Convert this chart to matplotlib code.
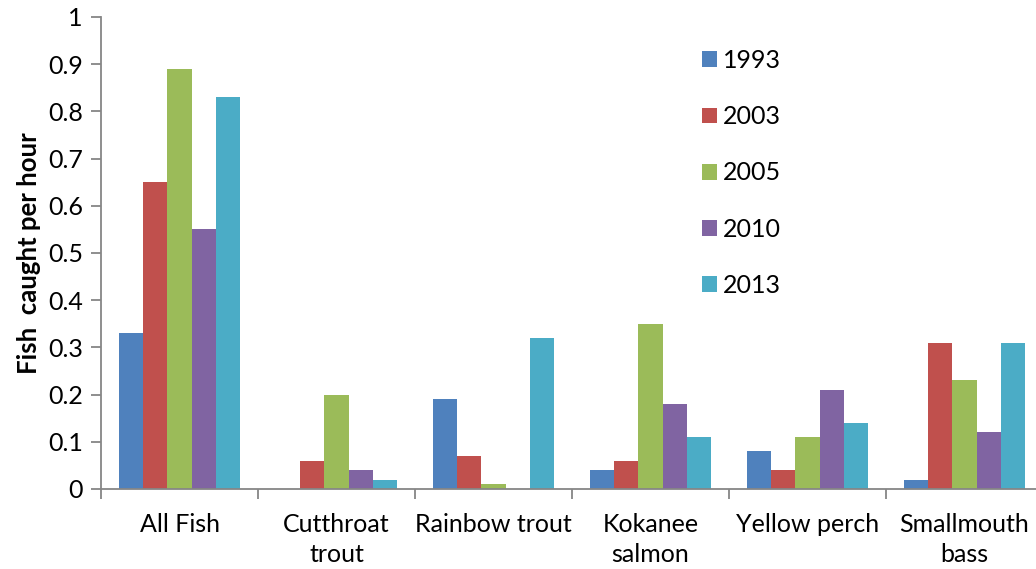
import numpy as np
import matplotlib
matplotlib.use("Agg")
import matplotlib.pyplot as plt
from matplotlib.ticker import MultipleLocator, FixedLocator

plt.rcParams['font.family'] = ['Lato', 'DejaVu Sans']

categories = ["All Fish", "Cutthroat\ntrout", "Rainbow trout", "Kokanee\nsalmon",
              "Yellow perch", "Smallmouth\nbass"]
years = ["1993", "2003", "2005", "2010", "2013"]
v1993 = [0.33, np.nan, 0.19, 0.04, 0.08, 0.02]
v2003 = [0.65, 0.06, 0.07, 0.06, 0.04, 0.31]
v2005 = [0.89, 0.20, 0.01, 0.35, 0.11, 0.23]
v2010 = [0.55, 0.04, np.nan, 0.18, 0.21, 0.12]
v2013 = [0.83, 0.02, 0.32, 0.11, 0.14, 0.31]
series = [v1993, v2003, v2005, v2010, v2013]
colors = ["#4F81BD", "#C0504D", "#9BBB59", "#8064A2", "#4BACC6"]

W, H = 1036, 569
fig = plt.figure(figsize=(W / 100, H / 100), dpi=100)
ax = fig.add_axes([101 / W, (H - 489) / H, 942 / W, (489 - 17) / H])

x = np.arange(len(categories))
w = 1 / 6.5
for i, (vals, c, yr) in enumerate(zip(series, colors, years)):
    ax.bar(x + (i - 2) * w, vals, width=w, color=c, label=yr)

ax.set_xlim(-0.5, len(categories) - 0.5)
ax.set_ylim(0, 1)
ax.yaxis.set_major_locator(MultipleLocator(0.1))
ax.yaxis.set_major_formatter(plt.FuncFormatter(lambda v, p: f"{v:g}"))

ax.set_xticks(x)
ax.set_xticklabels(categories, linespacing=1.4)
ax.xaxis.set_minor_locator(FixedLocator(np.arange(-0.5, len(categories), 1.0)))
ax.tick_params(axis='x', which='major', length=0, pad=17, labelsize=18)
ax.tick_params(axis='x', which='minor', length=7, width=1.3, color='#868686', direction='out')
ax.tick_params(axis='y', which='major', length=7, width=1.3, color='#868686', labelsize=18, pad=6)

for s in ['top', 'right']:
    ax.spines[s].set_visible(False)
for s in ['left', 'bottom']:
    ax.spines[s].set_color('#868686')
    ax.spines[s].set_linewidth(1.3)

ax.set_ylabel("Fish  caught per hour", fontsize=18.5, fontweight='bold', labelpad=5)

ax.legend(loc='upper left', bbox_to_anchor=(601 / 942, 1 - 32 / 472), frameon=False,
          fontsize=18, labelspacing=1.33, handlelength=0.6, handleheight=0.6,
          handletextpad=0.25, borderpad=0, borderaxespad=0)

fig.savefig("out.png", dpi=100)
